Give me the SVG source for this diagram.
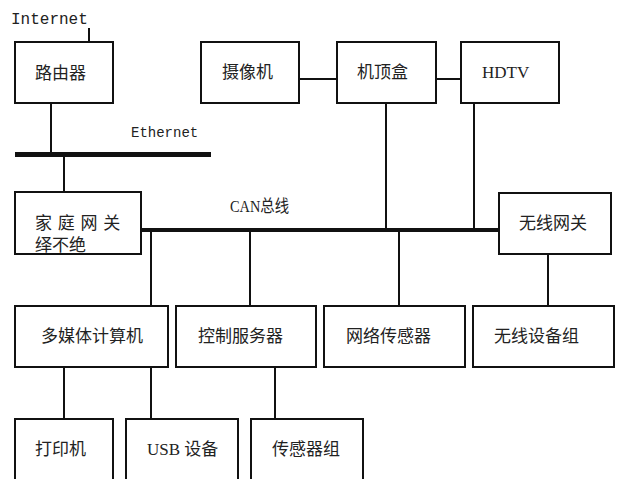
<svg xmlns="http://www.w3.org/2000/svg" width="621" height="479" viewBox="0 0 621 479">
<style>
.box{fill:#fff;stroke:#111;stroke-width:2}
.ln{stroke:#111;stroke-width:2;fill:none}
.t{font-family:"Liberation Serif","Noto Sans CJK SC",serif;font-size:17px;fill:#222}
.m{font-family:"Liberation Mono",monospace;fill:#222}
</style>
<rect width="621" height="479" fill="#fff"/>
<g id="connectors">
<line class="ln" x1="89" y1="28" x2="89" y2="42"/>
<line class="ln" x1="51" y1="103" x2="51" y2="152"/>
<line class="ln" x1="64" y1="157" x2="64" y2="192"/>
<line class="ln" x1="299" y1="79" x2="337" y2="79"/>
<line class="ln" x1="436" y1="79" x2="461" y2="79"/>
<line class="ln" x1="386" y1="103" x2="386" y2="230"/>
<line class="ln" x1="474" y1="103" x2="474" y2="230"/>
<line class="ln" x1="151" y1="230" x2="151" y2="306"/>
<line class="ln" x1="250" y1="230" x2="250" y2="306"/>
<line class="ln" x1="399" y1="230" x2="399" y2="306"/>
<line class="ln" x1="548" y1="254" x2="548" y2="306"/>
<line class="ln" x1="64" y1="367" x2="64" y2="419"/>
<line class="ln" x1="151" y1="367" x2="151" y2="419"/>
<line class="ln" x1="275" y1="367" x2="275" y2="419"/>
<rect id="ethernet-bus" x="15" y="152" width="196" height="5" fill="#111"/>
<rect id="can-bus" x="140" y="228" width="359" height="4" fill="#111"/>
<text class="m" x="11" y="24" font-size="16">Internet</text>
<text class="m" x="131" y="137" font-size="14">Ethernet</text>
<text class="t" x="230" y="212" font-size="15" textLength="59" lengthAdjust="spacingAndGlyphs">CAN总线</text>
</g>
<g id="router"><rect class="box" x="15" y="42" width="98" height="61"/><text class="t" x="35" y="79">路由器</text></g>
<g id="camera"><rect class="box" x="201" y="42" width="98" height="61"/><text class="t" x="222" y="78">摄像机</text></g>
<g id="settop"><rect class="box" x="337" y="42" width="99" height="61"/><text class="t" x="357" y="78">机顶盒</text></g>
<g id="hdtv"><rect class="box" x="461" y="42" width="98" height="61"/><text class="t" x="482" y="78">HDTV</text></g>
<g id="home-gateway"><rect class="box" x="15" y="192" width="126" height="62"/><text class="t" x="35" y="229" word-spacing="1.5">家 庭 网 关</text><text class="t" x="35" y="251">绎不绝</text></g>
<g id="wireless-gateway"><rect class="box" x="499" y="193" width="112" height="61"/><text class="t" x="519" y="229">无线网关</text></g>
<g id="multimedia"><rect class="box" x="15" y="306" width="153" height="61"/><text class="t" x="41" y="342">多媒体计算机</text></g>
<g id="control-server"><rect class="box" x="176" y="306" width="140" height="61"/><text class="t" x="198" y="342">控制服务器</text></g>
<g id="network-sensor"><rect class="box" x="324" y="306" width="141" height="61"/><text class="t" x="346" y="342">网络传感器</text></g>
<g id="wireless-devices"><rect class="box" x="473" y="306" width="141" height="61"/><text class="t" x="494" y="342">无线设备组</text></g>
<g id="printer"><rect class="box" x="15" y="419" width="98" height="75"/><text class="t" x="35" y="455">打印机</text></g>
<g id="usb"><rect class="box" x="126" y="419" width="112" height="75"/><text class="t" x="147" y="455">USB 设备</text></g>
<g id="sensor-group"><rect class="box" x="251" y="419" width="112" height="75"/><text class="t" x="272" y="455">传感器组</text></g>
</svg>
